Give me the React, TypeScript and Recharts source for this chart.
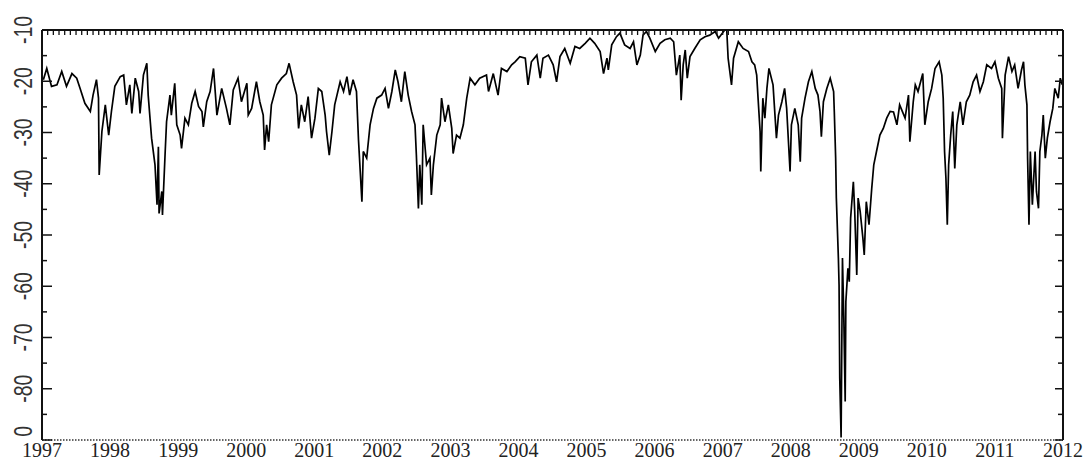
import React from 'react';
import { LineChart, Line, XAxis, YAxis } from 'recharts';

// [year, value] readings, grouped by stretch of the series
const seg1997: [number, number][] = [
  [1997.02, -19.7], [1997.07, -17.5], [1997.14, -21.0], [1997.22, -20.7], [1997.29, -18.1], [1997.36, -21.0],
  [1997.44, -18.5], [1997.51, -19.4], [1997.56, -21.4], [1997.63, -24.3], [1997.71, -25.9], [1997.75, -22.7],
  [1997.80, -19.7], [1997.83, -23.3], [1997.84, -38.3], [1997.88, -29.8], [1997.93, -24.6], [1997.98, -30.5],
  [1998.02, -25.9], [1998.07, -21.0], [1998.15, -19.1], [1998.20, -18.8], [1998.24, -24.6], [1998.29, -20.7],
  [1998.32, -26.3], [1998.37, -19.4], [1998.42, -22.0], [1998.44, -26.3], [1998.49, -18.8], [1998.54, -16.5],
  [1998.56, -22.7], [1998.61, -31.1], [1998.66, -36.3], [1998.69, -44.1], [1998.71, -32.8], [1998.72, -45.8],
  [1998.76, -41.5], [1998.77, -46.1], [1998.81, -33.7], [1998.83, -27.9], [1998.88, -22.7], [1998.90, -26.6],
  [1998.95, -20.4], [1998.98, -28.5], [1999.03, -30.5], [1999.05, -33.1], [1999.10, -27.2], [1999.15, -28.5],
  [1999.20, -24.3], [1999.25, -22.0], [1999.30, -24.9], [1999.35, -25.9], [1999.37, -28.9], [1999.42, -24.0],
  [1999.47, -22.0], [1999.52, -17.5],
];

const seg1999: [number, number][] = [
  [1999.57, -26.6], [1999.64, -21.4], [1999.71, -25.3], [1999.76, -28.5], [1999.81, -21.7], [1999.88, -19.4],
  [1999.93, -24.0], [2000.01, -20.4], [2000.03, -26.6], [2000.08, -25.3], [2000.15, -20.1], [2000.20, -24.0],
  [2000.25, -26.6], [2000.27, -33.4], [2000.30, -28.5], [2000.33, -31.8], [2000.37, -24.6], [2000.45, -20.7],
  [2000.52, -19.4], [2000.59, -18.5], [2000.63, -16.5], [2000.69, -20.1], [2000.74, -22.7], [2000.77, -29.2],
  [2000.81, -24.6], [2000.86, -27.9], [2000.91, -23.0], [2000.96, -31.1], [2001.01, -27.2], [2001.06, -21.4],
  [2001.11, -22.0], [2001.16, -26.6], [2001.18, -29.8], [2001.22, -34.4], [2001.26, -29.8], [2001.30, -24.6],
  [2001.38, -20.1], [2001.43, -22.0], [2001.48, -19.1], [2001.52, -22.7], [2001.57, -19.7], [2001.62, -22.0],
  [2001.65, -31.5], [2001.70, -43.5], [2001.72, -33.7], [2001.77, -35.0], [2001.82, -28.5], [2001.87, -25.3],
  [2001.92, -23.3], [2001.99, -22.7], [2002.04, -21.4],
];

const seg2002: [number, number][] = [
  [2002.09, -25.3], [2002.14, -22.0], [2002.19, -17.8], [2002.23, -20.1], [2002.28, -24.0], [2002.33, -18.1],
  [2002.38, -22.7], [2002.43, -25.9], [2002.48, -28.5], [2002.50, -34.4], [2002.53, -44.8], [2002.55, -36.3],
  [2002.58, -44.1], [2002.60, -28.5], [2002.65, -36.3], [2002.70, -35.0], [2002.72, -42.2], [2002.75, -36.3],
  [2002.80, -30.5], [2002.85, -28.5], [2002.87, -23.3], [2002.92, -27.9], [2002.97, -24.6], [2003.02, -29.2],
  [2003.04, -34.1], [2003.09, -30.5], [2003.14, -31.1], [2003.19, -28.5], [2003.24, -23.3], [2003.29, -19.4],
  [2003.36, -20.7], [2003.43, -19.4], [2003.53, -18.8], [2003.56, -22.0], [2003.63, -18.5], [2003.70, -22.7],
  [2003.75, -17.5], [2003.83, -18.1], [2003.90, -16.8], [2003.95, -16.2], [2004.02, -15.2], [2004.10, -15.5],
  [2004.14, -20.7], [2004.19, -16.2], [2004.27, -14.9], [2004.32, -19.4], [2004.36, -15.5], [2004.44, -14.9],
];

const seg2004: [number, number][] = [
  [2004.51, -16.8], [2004.56, -20.1], [2004.61, -15.2], [2004.68, -13.6], [2004.76, -16.5], [2004.83, -13.2],
  [2004.90, -13.6], [2004.98, -12.6], [2005.05, -11.6], [2005.12, -12.6], [2005.20, -14.2], [2005.25, -18.5],
  [2005.30, -15.5], [2005.32, -17.8], [2005.37, -12.9], [2005.44, -11.3], [2005.49, -10.6], [2005.56, -12.9],
  [2005.64, -13.6], [2005.69, -12.3], [2005.74, -16.8], [2005.79, -14.9], [2005.83, -11.0], [2005.88, -10.3],
  [2005.93, -11.6], [2006.01, -14.2], [2006.08, -12.6], [2006.15, -11.9], [2006.23, -11.6], [2006.28, -12.3],
  [2006.32, -18.8], [2006.37, -14.9], [2006.39, -23.7], [2006.42, -16.8], [2006.45, -13.9], [2006.48, -19.4],
  [2006.52, -15.2], [2006.59, -13.6], [2006.67, -11.9], [2006.74, -11.3], [2006.81, -11.0], [2006.89, -10.3],
  [2006.94, -11.6],
];

const seg2007: [number, number][] = [
  [2007.03, -10.0], [2007.06, -10.0], [2007.08, -15.5], [2007.13, -20.7], [2007.16, -15.5], [2007.23, -12.3],
  [2007.30, -13.6], [2007.38, -14.2], [2007.43, -16.2], [2007.47, -16.8], [2007.50, -18.8], [2007.52, -23.3],
  [2007.55, -29.8], [2007.56, -37.6], [2007.59, -23.3], [2007.62, -27.2], [2007.65, -21.4], [2007.68, -17.5],
  [2007.74, -20.7], [2007.79, -31.1], [2007.82, -26.6], [2007.87, -24.0], [2007.91, -21.4], [2007.94, -25.3],
  [2007.99, -37.6], [2008.01, -28.5], [2008.06, -25.3], [2008.11, -28.5], [2008.14, -35.7], [2008.16, -27.2],
  [2008.21, -23.3], [2008.26, -20.1], [2008.31, -18.1], [2008.36, -21.4], [2008.40, -22.7], [2008.43, -25.9],
  [2008.45, -30.8], [2008.48, -24.0], [2008.53, -21.4], [2008.58, -19.4], [2008.63, -22.0], [2008.64, -25.9],
  [2008.66, -35.0], [2008.67, -42.8], [2008.70, -54.5], [2008.71, -59.7], [2008.72, -77.9], [2008.74, -89.5],
  [2008.76, -54.5], [2008.78, -66.3], [2008.80, -82.5], [2008.81, -63.0], [2008.84, -56.5], [2008.86, -59.1],
  [2008.88, -46.7], [2008.92, -39.6], [2008.94, -45.4], [2008.97, -57.8], [2008.99, -42.8], [2009.02, -45.4],
  [2009.06, -50.6], [2009.08, -53.9], [2009.11, -43.5], [2009.15, -48.0], [2009.19, -40.9], [2009.22, -36.3],
  [2009.26, -33.7], [2009.31, -30.5], [2009.36, -29.2], [2009.41, -27.2], [2009.46, -25.9],
];

const seg2009: [number, number][] = [
  [2009.51, -26.0], [2009.56, -28.5], [2009.60, -24.6], [2009.68, -27.2], [2009.73, -22.7], [2009.75, -31.8],
  [2009.80, -24.0], [2009.83, -20.7], [2009.87, -22.0], [2009.94, -18.5], [2009.97, -28.5], [2010.02, -24.0],
  [2010.07, -21.4], [2010.12, -17.5], [2010.18, -16.2], [2010.22, -18.8], [2010.24, -23.3], [2010.26, -33.7],
  [2010.28, -38.9], [2010.30, -48.0], [2010.32, -36.3], [2010.35, -30.5], [2010.38, -25.9], [2010.41, -37.0],
  [2010.44, -28.5], [2010.49, -24.0], [2010.53, -28.5], [2010.58, -24.0], [2010.63, -22.7], [2010.68, -20.1],
  [2010.73, -18.8], [2010.78, -22.0], [2010.83, -20.1], [2010.88, -16.8], [2010.95, -17.5], [2011.00, -16.2],
  [2011.05, -19.4], [2011.10, -21.4], [2011.11, -31.1], [2011.15, -18.8], [2011.20, -15.2], [2011.25, -18.1],
  [2011.29, -16.8], [2011.34, -21.4], [2011.39, -17.8], [2011.42, -16.2], [2011.44, -20.7], [2011.47, -24.6],
  [2011.48, -35.0], [2011.50, -48.0], [2011.52, -33.7], [2011.55, -44.1], [2011.59, -33.7], [2011.61, -41.5],
  [2011.64, -44.8], [2011.66, -33.7], [2011.69, -30.5], [2011.71, -26.6], [2011.74, -35.0], [2011.77, -31.1],
  [2011.81, -27.9], [2011.85, -25.3], [2011.88, -21.4], [2011.93, -23.3], [2011.96, -19.4], [2011.99, -20.7],
];

const yearTicks = [1997, 1998, 1999, 2000, 2001, 2002, 2003, 2004, 2005, 2006, 2007, 2008, 2009, 2010, 2011, 2012];
const yTicks = [-90, -85, -80, -75, -70, -65, -60, -55, -50, -45, -40, -35, -30, -25, -20, -15, -10];

const data = [...seg1997, ...seg1999, ...seg2002, ...seg2004, ...seg2007, ...seg2009].map(([t, v]) => ({ t, v }));

// month marks along the top border
const monthTicks: number[] = [];
yearTicks.slice(0, -1).forEach(y => {
  for (let m = 0; m < 12; m++) monthTicks.push(y + m / 12);
});

const W = 1087;
const H = 463;
const LEFT = 42;
const RIGHT = 1063;
const TOP = 30;
const BOTTOM = 440;

const YearTick = (props: any) => {
  const { x, payload } = props;
  return (
    <text x={x} y={457} textAnchor="middle" fontFamily="'Liberation Serif', serif" fontSize={20} fill="#222">
      {payload.value}
    </text>
  );
};

const CombTick = (props: any) => {
  const { x } = props;
  return <line x1={x} x2={x} y1={TOP} y2={TOP + 5} stroke="#111" strokeWidth={1.3} />;
};

const LeftTick = (props: any) => {
  const { y, payload } = props;
  const major = payload.value % 10 === 0;
  return (
    <g>
      <line x1={LEFT} x2={LEFT + (major ? 10 : 5)} y1={y} y2={y} stroke="#111" strokeWidth={1.5} />
      {major && (
        <g clipPath="url(#ylabClip)">
          <text
            transform={`translate(32, ${y}) rotate(-90) scale(0.78, 1)`}
            textAnchor="middle"
            fontFamily="'Liberation Sans', sans-serif"
            fontSize={25}
            fill="#333"
          >
            {payload.value}
          </text>
        </g>
      )}
    </g>
  );
};

const RightTick = (props: any) => {
  const { y, payload } = props;
  const major = payload.value % 10 === 0;
  return <line x1={RIGHT} x2={RIGHT - (major ? 8 : 5)} y1={y} y2={y} stroke="#111" strokeWidth={1.5} />;
};

export default function App() {
  return (
    <div style={{ position: 'absolute', left: 0, top: 0, width: W, height: H, background: '#fff' }}>
      <LineChart width={W} height={H} data={data} margin={{ top: TOP - 1, right: 0, bottom: 0, left: 0 }}>
        <defs>
          <clipPath id="ylabClip">
            <rect x={0} y={0} width={LEFT} height={BOTTOM - 3} />
          </clipPath>
        </defs>
        <XAxis
          xAxisId="bottom"
          type="number"
          dataKey="t"
          domain={[1997, 2012]}
          ticks={yearTicks}
          interval={0}
          height={H - BOTTOM}
          axisLine={{ stroke: '#333', strokeWidth: 1.3, strokeDasharray: '1.5 1.5' }}
          tickLine={false}
          tick={YearTick}
        />
        <XAxis
          xAxisId="top"
          orientation="top"
          type="number"
          dataKey="t"
          domain={[1997, 2012]}
          ticks={monthTicks}
          interval={0}
          height={1}
          axisLine={{ stroke: '#111', strokeWidth: 2 }}
          tickLine={false}
          tick={CombTick}
        />
        <YAxis
          yAxisId="left"
          width={LEFT}
          domain={[-90, -10]}
          ticks={yTicks}
          interval={0}
          allowDataOverflow
          axisLine={{ stroke: '#111', strokeWidth: 2 }}
          tickLine={false}
          tick={LeftTick}
        />
        <YAxis
          yAxisId="right"
          orientation="right"
          width={W - RIGHT}
          domain={[-90, -10]}
          ticks={yTicks}
          interval={0}
          allowDataOverflow
          axisLine={{ stroke: '#111', strokeWidth: 2 }}
          tickLine={false}
          tick={RightTick}
        />
        <Line
          xAxisId="bottom"
          yAxisId="left"
          type="linear"
          dataKey="v"
          stroke="#000"
          strokeWidth={1.7}
          dot={false}
          isAnimationActive={false}
        />
      </LineChart>
    </div>
  );
}
